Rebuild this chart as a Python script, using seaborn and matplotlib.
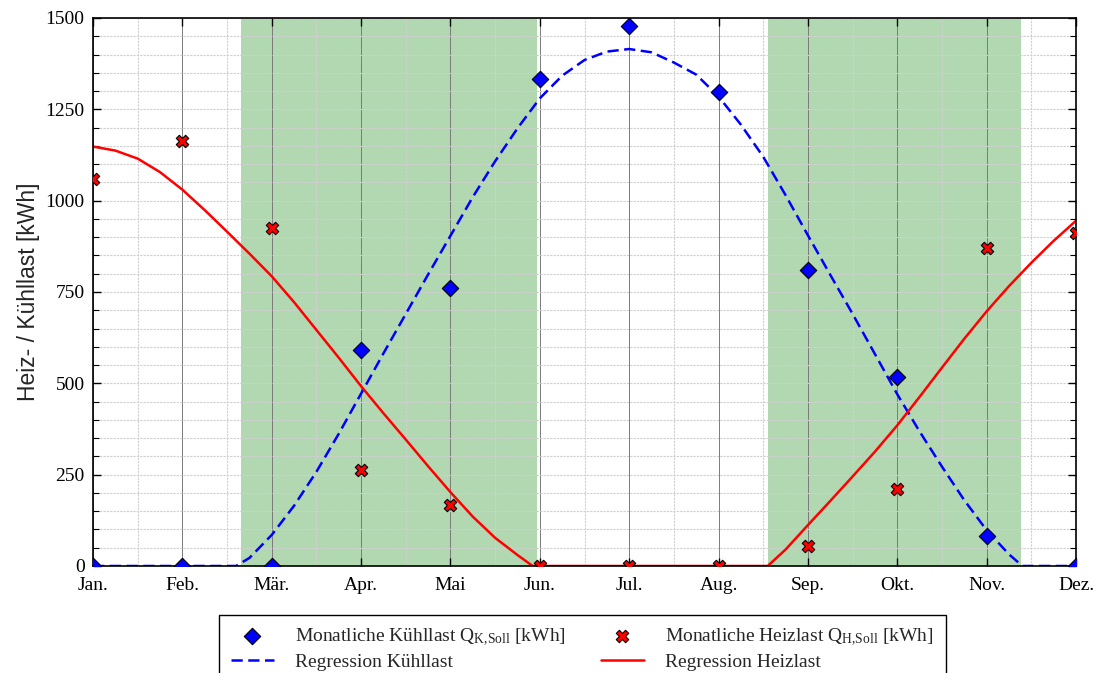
import numpy as np
import pandas as pd
import matplotlib
matplotlib.use("Agg")
import matplotlib.pyplot as plt
import seaborn as sns
from matplotlib.ticker import MultipleLocator

# Monatswerte
months = ["Jan.", "Feb.", "Mär.", "Apr.", "Mai", "Jun.", "Jul.", "Aug.", "Sep.", "Okt.", "Nov.", "Dez."]
kuehllast = [0, 0, 0, 590, 762, 1332, 1477, 1297, 810, 517, 83, 0]
heizlast = [1060, 1163, 926, 263, 168, 0, 0, 0, 55, 210, 870, 912]

# Regressionskurven (Monatsindex -> kWh)
reg_k_x = [0, 1, 1.5, 1.6, 1.75, 2, 2.25, 2.5, 2.75, 3, 3.25, 3.5, 3.75, 4, 4.25, 4.5, 4.75,
           5, 5.25, 5.5, 5.75, 6, 6.25, 6.5, 6.75, 7, 7.25, 7.5, 7.75, 8, 8.25, 8.5, 8.75,
           9, 9.25, 9.5, 9.75, 10, 10.25, 10.4, 11]
reg_k_y = [0, 0, 0, 0, 22, 85, 165, 258, 362, 472, 582, 690, 798, 904, 1010, 1108, 1198,
           1280, 1342, 1385, 1408, 1415, 1406, 1378, 1345, 1285, 1208, 1120, 1015, 905, 797, 690, 580,
           470, 368, 272, 180, 98, 32, 0, 0]
reg_h_x = [0, 0.25, 0.5, 0.75, 1, 1.25, 1.5, 1.75, 2, 2.25, 2.5, 2.75, 3, 3.25, 3.5, 3.75,
           4, 4.25, 4.5, 4.75, 4.92, 5, 7, 7.55, 7.75, 8, 8.25, 8.5, 8.75, 9, 9.25, 9.5,
           9.75, 10, 10.25, 10.5, 10.75, 11]
reg_h_y = [1148, 1137, 1115, 1078, 1030, 974, 915, 855, 793, 722, 646, 570, 492, 418, 346, 273,
           202, 135, 77, 30, 0, 0, 0, 0, 45, 112, 178, 245, 313, 385, 463, 543,
           622, 697, 766, 830, 890, 945]

# gruen hinterlegte Zeitraeume (Monatsindex)
green_spans = [(1.656, 4.965), (7.55, 10.39)]

df = pd.DataFrame({"monat": np.arange(len(months)), "kuehl": kuehllast, "heiz": heizlast})
df_rk = pd.DataFrame({"x": reg_k_x, "y": reg_k_y})
df_rh = pd.DataFrame({"x": reg_h_x, "y": reg_h_y})

sns.set_style("ticks")
plt.rcParams["font.family"] = ["Liberation Serif", "DejaVu Serif"]
plt.rcParams["mathtext.fontset"] = "custom"
plt.rcParams["mathtext.rm"] = "Liberation Serif"
plt.rcParams["mathtext.it"] = "Liberation Serif:italic"

fig = plt.figure(figsize=(11.01, 6.73), dpi=100)
ax = fig.add_axes([0.0845, 0.159, 0.8928, 0.8143])

for a, b in green_spans:
    ax.axvspan(a, b, color="green", alpha=0.3, lw=0, zorder=0.5)

lab_k = r"Monatliche Kühllast Q$_{\mathrm{K{,}Soll}}$ [kWh]"
lab_h = r"Monatliche Heizlast Q$_{\mathrm{H{,}Soll}}$ [kWh]"

sns.lineplot(data=df_rk, x="x", y="y", ax=ax, color="blue", lw=1.8, linestyle=(0, (4.5, 2.2)),
             label="Regression Kühllast", zorder=2, sort=False)
sns.lineplot(data=df_rh, x="x", y="y", ax=ax, color="red", lw=1.8,
             label="Regression Heizlast", zorder=2, sort=False)
sns.scatterplot(data=df, x="monat", y="kuehl", ax=ax, marker="D", s=70, color="blue",
                edgecolor="black", linewidth=0.8, zorder=3, label=lab_k)
sns.scatterplot(data=df, x="monat", y="heiz", ax=ax, marker="X", s=80, color="red",
                edgecolor="black", linewidth=0.8, zorder=3, label=lab_h)

ax.set_xlim(0, 11)
ax.set_ylim(0, 1500)
ax.set_xticks(np.arange(len(months)))
ax.set_xticklabels(months)
ax.xaxis.set_minor_locator(MultipleLocator(0.5))
ax.set_yticks([0, 250, 500, 750, 1000, 1250, 1500])
ax.yaxis.set_minor_locator(MultipleLocator(50))

ax.grid(True, which="major", axis="x", color="#7a7a7a", lw=0.7)
ax.grid(True, which="minor", axis="x", color="#d0d0d0", lw=0.8, linestyle=(0, (2, 1)))
ax.grid(True, which="both", axis="y", color="#d0d0d0", lw=0.8, linestyle=(0, (2, 1)))

ax.tick_params(which="both", direction="in", top=True, right=True, labelsize=14, colors="black")
ax.tick_params(which="major", length=6, width=1)
ax.tick_params(which="minor", length=4, width=0.8)
ax.tick_params(axis="x", which="minor", length=0)
ax.tick_params(axis="y", pad=6)
ax.tick_params(axis="x", pad=8)
for sp in ax.spines.values():
    sp.set_color("black")
    sp.set_linewidth(1.2)

ax.set_xlabel("")
ax.set_ylabel("Heiz- / Kühllast [kWh]", fontsize=16.5, family=["Liberation Sans", "DejaVu Sans"], labelpad=4)

handles, labels = ax.get_legend_handles_labels()
order = [labels.index(l) for l in [lab_k, "Regression Kühllast", lab_h, "Regression Heizlast"]]
ax.legend([handles[i] for i in order], [labels[i] for i in order], ncol=2,
          loc="upper center", bbox_to_anchor=(0.529, 0.101), bbox_transform=fig.transFigure,
          fontsize=14, frameon=True, fancybox=False, edgecolor="black", framealpha=1,
          handlelength=2.2, handletextpad=1.1, labelspacing=0.3, columnspacing=1.8,
          borderpad=0.6, scatterpoints=1)
ax.get_legend().get_frame().set_linewidth(1.0)

fig.savefig("out.png", dpi=100)
